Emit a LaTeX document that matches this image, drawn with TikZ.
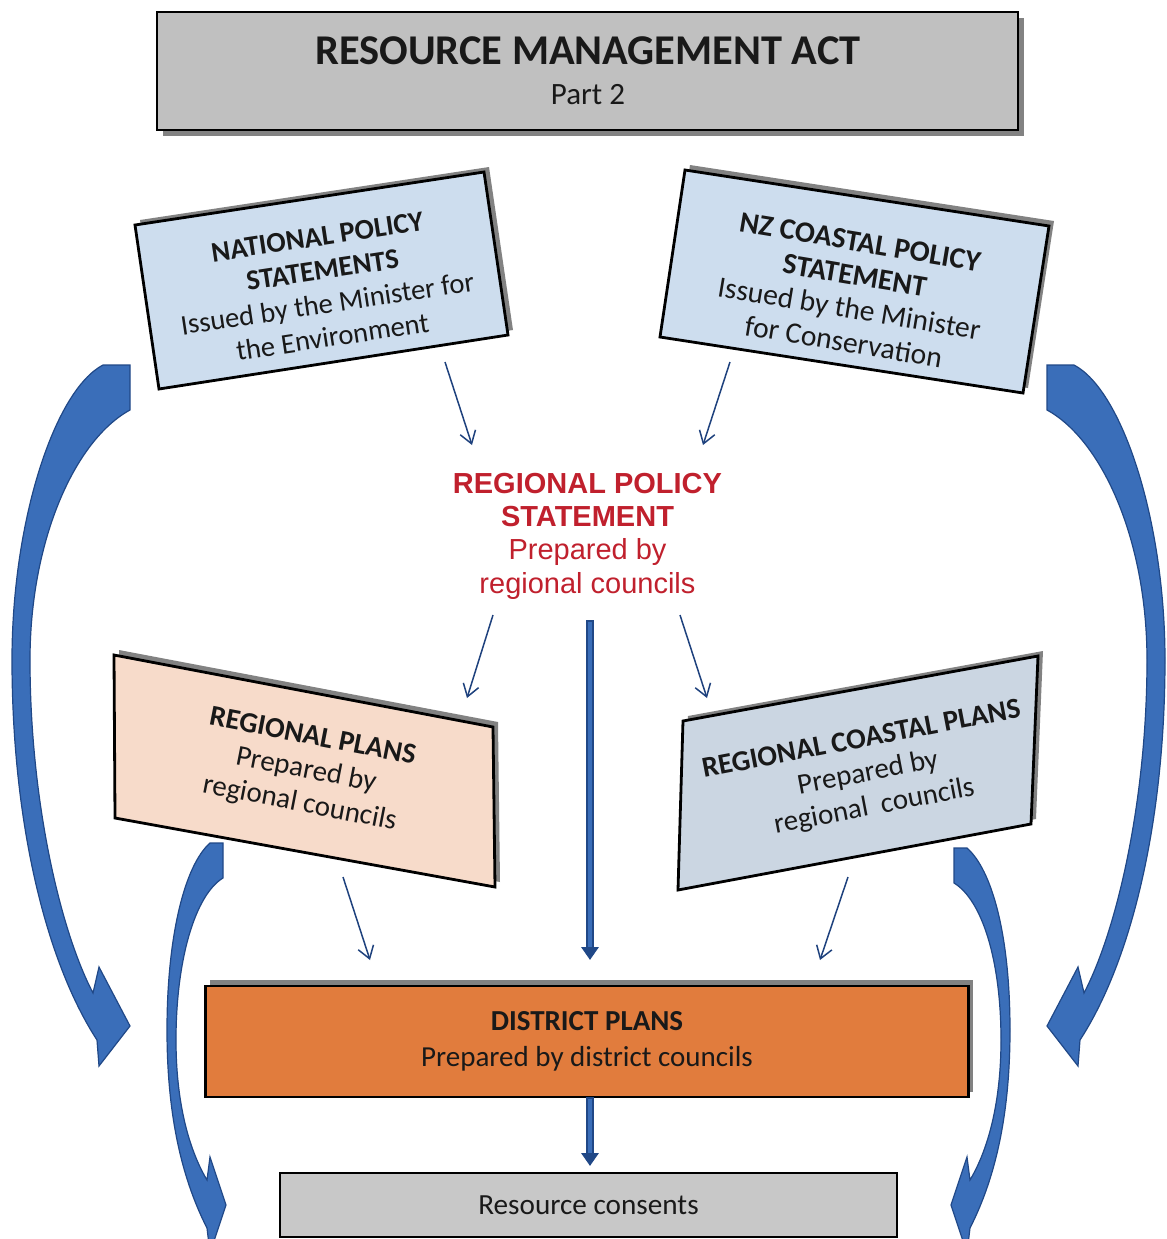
\documentclass[tikz,border=0pt]{standalone}
\usepackage{fontspec}
\setmainfont{Carlito}
\newfontfamily\rpsfont{Liberation Sans}
\usetikzlibrary{arrows.meta,calc}
\definecolor{boxgray}{RGB}{192,192,192}
\definecolor{shadowgray}{RGB}{130,130,130}
\definecolor{natblue}{RGB}{205,221,238}
\definecolor{peach}{RGB}{247,219,202}
\definecolor{coastgray}{RGB}{203,214,226}
\definecolor{distorange}{RGB}{225,124,61}
\definecolor{rcgray}{RGB}{200,200,200}
\definecolor{rpsred}{RGB}{192,32,45}
\definecolor{arrowblue}{RGB}{58,110,185}
\definecolor{arrowdark}{RGB}{32,72,135}
\definecolor{thinblue}{RGB}{30,65,125}
\definecolor{inktext}{RGB}{25,25,25}
\begin{document}
\begin{tikzpicture}[x=0.5pt,y=-0.5pt,
  boxline/.style={draw=black, line width=1.4pt, line join=miter},
  boxtxt/.style={align=center, inner sep=0pt, text=inktext, font=\fontsize{14.5}{17}\selectfont},
  thinarrow/.style={draw=thinblue, line width=0.75pt, -{Straight Barb[length=6pt,width=8pt,line width=0.75pt]}},
  bigarrow/.style={fill=arrowblue, draw=arrowdark, line width=0.6pt, line join=miter},
  thickarrow/.style={draw=arrowdark, line width=4pt, -{Triangle[length=6.5pt,width=8.5pt]}},
  thickcore/.style={draw=arrowblue, line width=1.8pt, shorten >=6.5pt, shorten <=0.8pt},
]
\useasboundingbox (0,0) rectangle (1167,1239);
\clip (0,0) rectangle (1167,1239);

% ---------- big curved arrows ----------
\path[bigarrow] (103,365) -- (130,365) -- (130,410)
  .. controls (75,440) and (30,540) .. (30,660)
  .. controls (30,800) and (60,930) .. (93,993)
  -- (99,967) -- (130,1026) -- (99,1066) -- (97,1040)
  .. controls (45,960) and (12,820) .. (12,660)
  .. controls (12,520) and (55,390) .. (103,365) -- cycle;

\path[bigarrow] (1074,365) -- (1047,365) -- (1047,410)
  .. controls (1102,440) and (1147,540) .. (1147,660)
  .. controls (1147,800) and (1117,930) .. (1084,993)
  -- (1078,967) -- (1047,1026) -- (1078,1066) -- (1080,1040)
  .. controls (1132,960) and (1165,820) .. (1165,660)
  .. controls (1165,520) and (1122,390) .. (1074,365) -- cycle;

\path[bigarrow] (210,843) -- (223,843) -- (223,878)
  .. controls (195,895) and (176,960) .. (176,1040)
  .. controls (176,1110) and (192,1155) .. (207,1180)
  -- (210,1157) -- (226,1205) -- (210,1253) -- (207,1228)
  .. controls (180,1175) and (167,1110) .. (167,1030)
  .. controls (167,935) and (185,865) .. (210,843) -- cycle;

\path[bigarrow] (967,848) -- (954,848) -- (954,883)
  .. controls (982,900) and (1001,960) .. (1001,1040)
  .. controls (1001,1110) and (985,1155) .. (970,1180)
  -- (967,1157) -- (951,1205) -- (967,1253) -- (970,1228)
  .. controls (997,1175) and (1010,1110) .. (1010,1030)
  .. controls (1010,935) and (992,870) .. (967,848) -- cycle;

% ---------- top box ----------
\fill[shadowgray] (163,18) rectangle (1024,136);
\node[boxline, fill=boxgray, minimum width=430.5pt, minimum height=59pt, inner sep=0pt, outer sep=0pt] (rma) at (587.5,71) {};
\node[anchor=base, inner sep=0pt, text=inktext, font=\fontsize{21.2}{24}\selectfont\bfseries] (rmatitle) at (588,64) {RESOURCE MANAGEMENT ACT};
\node[anchor=base, inner sep=0pt, text=inktext, font=\fontsize{15.5}{18}\selectfont] (rmapart) at (588,104) {Part 2};

% ---------- national policy statements ----------
\coordinate (NA) at (135,225); \coordinate (NB) at (484,172);
\coordinate (NC) at (508,335); \coordinate (ND) at (159,389);
\fill[shadowgray] ($(NA)+(5,-5)$) -- ($(NB)+(5,-5)$) -- ($(NC)+(5,-5)$) -- ($(ND)+(5,-5)$) -- cycle;
\draw[boxline, fill=natblue] (NA) -- (NB) -- (NC) -- (ND) -- cycle;
\node[boxtxt, rotate=8.6, font=\fontsize{14.3}{16.9}\selectfont] (nps) at (325,287)
  {\textbf{NATIONAL POLICY}\\\textbf{STATEMENTS}\\Issued by the Minister for\\the Environment};

% ---------- NZ coastal policy statement ----------
\coordinate (ZA) at (685,170); \coordinate (ZB) at (1049,226);
\coordinate (ZC) at (1023,393); \coordinate (ZD) at (660,337);
\fill[shadowgray] ($(ZA)+(5,-5)$) -- ($(ZB)+(5,-5)$) -- ($(ZC)+(5,-5)$) -- ($(ZD)+(5,-5)$) -- cycle;
\draw[boxline, fill=natblue] (ZA) -- (ZB) -- (ZC) -- (ZD) -- cycle;
\node[boxtxt, rotate=-9.5, font=\fontsize{14.8}{16.9}\selectfont] (nzcps) at (852,292)
  {\textbf{NZ COASTAL POLICY}\\\textbf{STATEMENT}\\Issued by the Minister\\for Conservation};

% ---------- regional policy statement ----------
\node[align=center, inner sep=0pt, anchor=base, text=rpsred, font=\rpsfont\fontsize{14.5}{16.6}\selectfont] (rps) at (587.5,593)
  {\textbf{REGIONAL POLICY}\\\textbf{STATEMENT}\\Prepared by\\regional councils};

% ---------- regional plans ----------
\coordinate (RA) at (114,655); \coordinate (RB) at (493,727);
\coordinate (RC) at (495,887); \coordinate (RD) at (115,818);
\fill[shadowgray] ($(RA)+(5,-5)$) -- ($(RB)+(5,-5)$) -- ($(RC)+(5,-5)$) -- ($(RD)+(5,-5)$) -- cycle;
\draw[boxline, fill=peach] (RA) -- (RB) -- (RC) -- (RD) -- cycle;
\node[boxtxt, rotate=-11] (rplans) at (306,771)
  {\textbf{REGIONAL PLANS}\\Prepared by\\regional councils};

% ---------- regional coastal plans ----------
\coordinate (CA) at (683,721); \coordinate (CB) at (1038,656);
\coordinate (CC) at (1031,824); \coordinate (CD) at (678,890);
\fill[shadowgray] ($(CA)+(5,-5)$) -- ($(CB)+(5,-5)$) -- ($(CC)+(5,-5)$) -- ($(CD)+(5,-5)$) -- cycle;
\draw[boxline, fill=coastgray] (CA) -- (CB) -- (CC) -- (CD) -- cycle;
\node[boxtxt, rotate=10.8] (rcplans) at (868,774)
  {\textbf{REGIONAL COASTAL PLANS}\\Prepared by\\regional\ \ councils};

% ---------- district plans ----------
\fill[shadowgray] (210,980) rectangle (973,1092);
\node[boxline, fill=distorange, minimum width=381.5pt, minimum height=55.5pt, inner sep=0pt, outer sep=0pt,
      align=center, text=inktext, font=\fontsize{14.5}{18}\selectfont] (dp) at (587,1041.5)
  {\textbf{DISTRICT PLANS}\\Prepared by district councils};

% ---------- resource consents ----------
\node[draw=black, line width=1.1pt, fill=rcgray, minimum width=308.5pt, minimum height=32pt, inner sep=0pt, outer sep=0pt,
      text=inktext, font=\fontsize{14.6}{17}\selectfont] (rc) at (588.5,1205) {Resource consents};

% ---------- thin arrows ----------
\coordinate (a1s) at (445,362); \coordinate (a1e) at (472,445);
\coordinate (a2s) at (730,362); \coordinate (a2e) at (703,445);
\coordinate (a3s) at (493,615); \coordinate (a3e) at (467,698);
\coordinate (a4s) at (680,615); \coordinate (a4e) at (707,698);
\coordinate (a5s) at (343,877); \coordinate (a5e) at (370,960);
\coordinate (a6s) at (848,877); \coordinate (a6e) at (820,960);
\draw[thinarrow] (a1s) -- (a1e);
\draw[thinarrow] (a2s) -- (a2e);
\draw[thinarrow] (a3s) -- (a3e);
\draw[thinarrow] (a4s) -- (a4e);
\draw[thinarrow] (a5s) -- (a5e);
\draw[thinarrow] (a6s) -- (a6e);

% ---------- thick vertical arrows ----------
\coordinate (t1s) at (590,620); \coordinate (t1e) at (590,960);
\draw[thickarrow] (t1s) -- (t1e);
\draw[thickcore] (t1s) -- (t1e);
\coordinate (t2e) at (590,1166);
\draw[thickarrow] (dp.south -| t1s) -- (t2e);
\draw[thickcore] (dp.south -| t1s) -- (t2e);
\end{tikzpicture}
\end{document}
